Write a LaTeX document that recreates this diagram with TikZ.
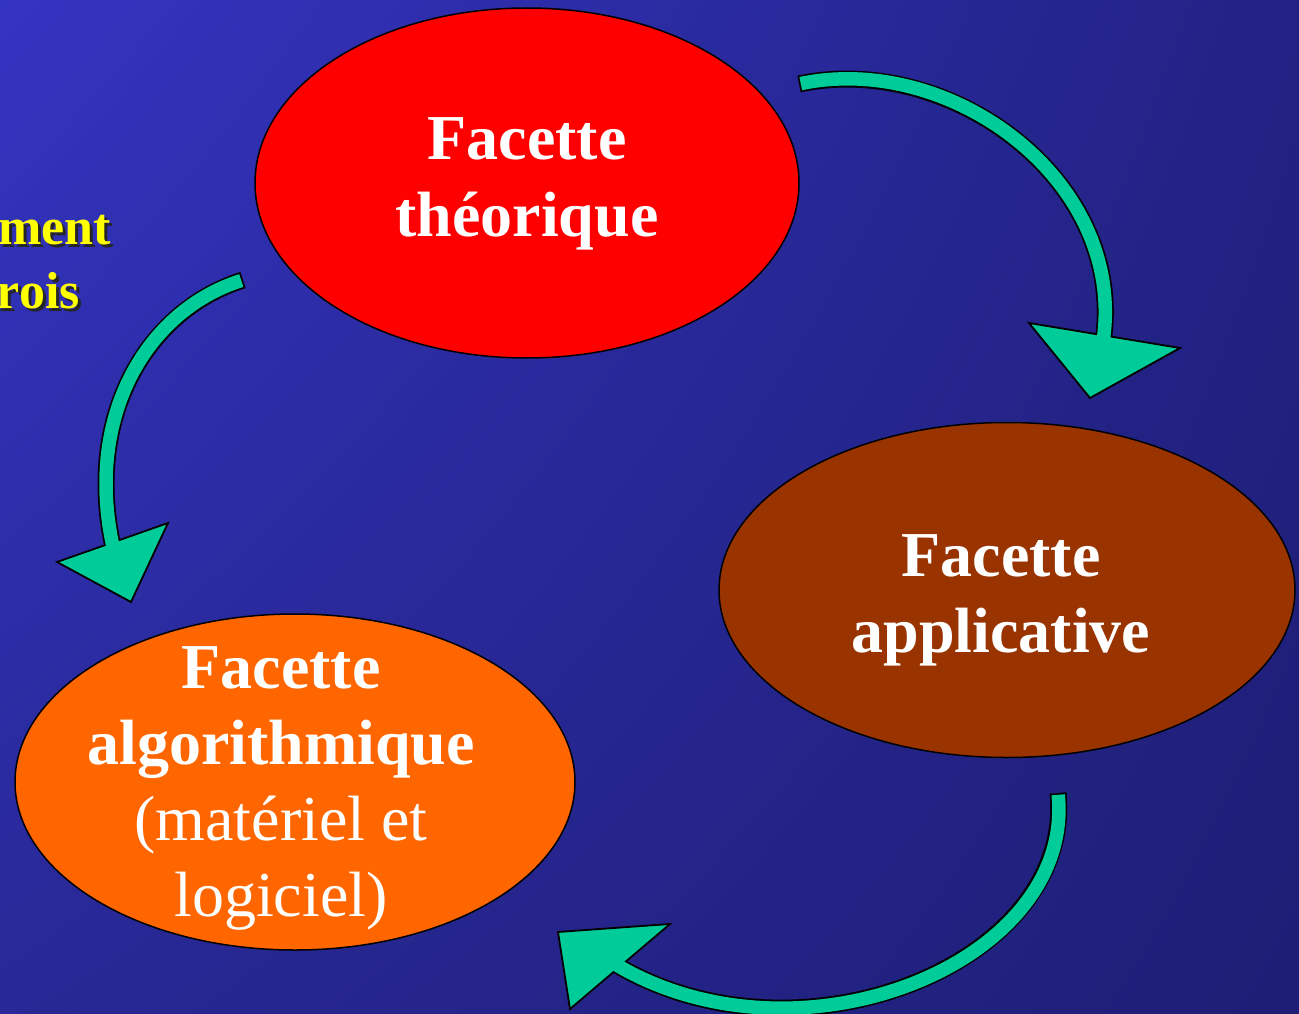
\documentclass[tikz,border=0pt]{standalone}
\usepackage{fontspec}
\setmainfont{Liberation Serif}
\usetikzlibrary{shapes.geometric,shadings}
\definecolor{arrowgreen}{HTML}{00CC99}
\definecolor{theored}{HTML}{FF0000}
\definecolor{appbrown}{HTML}{993300}
\definecolor{algoorange}{HTML}{FF6600}
\definecolor{noteyellow}{HTML}{FFFF00}
\definecolor{bgUL}{RGB}{52,52,194}
\definecolor{bgUR}{RGB}{34,34,132}
\definecolor{bgLL}{RGB}{40,40,150}
\definecolor{bgLR}{RGB}{30,30,118}
\begin{document}
\begin{tikzpicture}[x=1pt,y=-1pt,
  facet/.style={ellipse, draw=black, line width=1.5pt, inner sep=0pt},
  titleline/.style={text=white, font=\fontsize{64}{76}\selectfont\bfseries, anchor=base, inner sep=0pt},
  plainline/.style={text=white, font=\fontsize{64}{76}\selectfont, anchor=base, inner sep=0pt},
  shaftout/.style={draw=black, line width=17pt, shorten >=-5pt},
  shaftin/.style={draw=arrowgreen, line width=13.5pt, shorten >=-5pt, shorten <=1.8pt},
  headtri/.style={fill=arrowgreen, draw=black, line width=1.8pt, line join=miter},
  notetext/.style={text=noteyellow, font=\fontsize{52}{62}\selectfont\bfseries, anchor=base east, inner sep=0pt},
  noteshadow/.style={text=black!85, font=\fontsize{52}{62}\selectfont\bfseries, anchor=base east, inner sep=0pt}]
\useasboundingbox (0,0) rectangle (1299,1014);
\shade[upper left=bgUL, upper right=bgUR, lower left=bgLL, lower right=bgLR] (0,0) rectangle (1299,1014);

% yellow cut-off note
\node[noteshadow] (n1s) at (114,247) {ment};
\node[noteshadow] (n2s) at (83,311) {rois};
\node[notetext] (n1) at (111,244) {ment};
\node[notetext] (n2) at (80,308) {rois};

% facets
\node[facet, fill=theored, minimum width=544pt, minimum height=350pt] (theo) at (527,183) {};
\node[facet, fill=appbrown, minimum width=576pt, minimum height=335pt] (app) at (1007,590) {};
\node[facet, fill=algoorange, minimum width=560pt, minimum height=336pt] (algo) at (295,782) {};

\node[titleline] (theo1) at (527,160) {Facette};
\node[titleline] (theo2) at (527,236) {théorique};
\node[titleline] (app1) at (1001,576) {Facette};
\node[titleline] (app2) at (1001,652) {applicative};
\node[titleline] (algo1) at (281,688) {Facette};
\node[titleline] (algo2) at (281,764) {algorithmique};
\node[plainline] (algo3) at (281,840) {(matériel et};
\node[plainline] (algo4) at (281,916) {logiciel)};

% arrow 1: theorique -> applicative
\coordinate (t1) at (799,84);
\coordinate (e1) at (1104,335);
\coordinate (h1a) at (1029,323);
\coordinate (h1b) at (1180,348);
\coordinate (h1c) at (1090,398);
\draw[shaftout] (t1) .. controls (950,52) and (1126,180) .. (e1);
\draw[headtri] (h1a) -- (h1b) -- (h1c) -- cycle;
\draw[shaftin] (t1) .. controls (950,52) and (1126,180) .. (e1);

% arrow 2: applicative -> algorithmique
\coordinate (t2) at (1058,793);
\coordinate (e2) at (620,967);
\coordinate (h2a) at (558,932);
\coordinate (h2b) at (670,924);
\coordinate (h2c) at (570,1009);
\draw[shaftout] (t2) .. controls (1075,963) and (800,1074) .. (e2);
\draw[headtri] (h2a) -- (h2b) -- (h2c) -- cycle;
\draw[shaftin] (t2) .. controls (1075,963) and (800,1074) .. (e2);

% arrow 3: theorique -> algorithmique
\coordinate (t3) at (243,280);
\coordinate (e3) at (112,542);
\coordinate (h3a) at (57,562);
\coordinate (h3b) at (168,523);
\coordinate (h3c) at (131,602);
\draw[shaftout] (t3) .. controls (148,310) and (84,415) .. (e3);
\draw[headtri] (h3a) -- (h3b) -- (h3c) -- cycle;
\draw[shaftin] (t3) .. controls (148,310) and (84,415) .. (e3);
\end{tikzpicture}
\end{document}
